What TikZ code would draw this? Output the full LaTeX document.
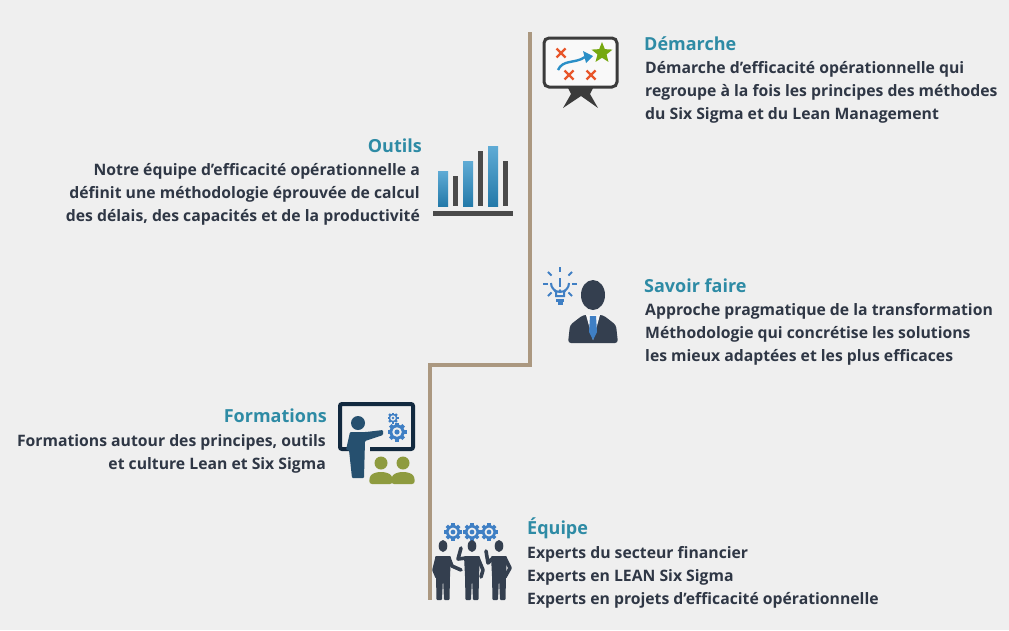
\documentclass[tikz,border=0pt]{standalone}
\usepackage{fontspec}
\setmainfont{Open Sans}
\usetikzlibrary{shapes.geometric,calc}
\definecolor{bgcol}{HTML}{EFEFEF}
\definecolor{railcol}{HTML}{AB9880}
\definecolor{titlecol}{HTML}{2E8BA5}
\definecolor{bodycol}{HTML}{2F3745}
\definecolor{slatecol}{HTML}{343F4F}
\definecolor{barblue}{HTML}{2A8FC7}
\definecolor{bargrey}{HTML}{4A4A4A}
\definecolor{gearblue}{HTML}{3F7FC4}
\definecolor{navycol}{HTML}{12293F}
\definecolor{teachcol}{HTML}{26506F}
\definecolor{olivecol}{HTML}{8E9B3F}
\definecolor{crosscol}{HTML}{E8562A}
\definecolor{starcol}{HTML}{76A80F}
% gear: x, y, radius, colour
\newcommand{\gearicon}[4]{
    \foreach \ang in {0,45,90,135}
        \fill[#4, rotate around={\ang:(#1,#2)}] (#1-0.2*#3,#2-#3) rectangle (#1+0.2*#3,#2+#3);
    \fill[#4] (#1,#2) circle[radius=0.8*#3];
    \fill[bgcol] (#1,#2) circle[radius=0.5*#3];
    \fill[#4] (#1,#2) circle[radius=0.27*#3];
}
% standing man: x of centre, y of head, y of feet
\newcommand{\standman}[3]{
    \fill[slatecol] (#1,#2) ellipse[x radius=4.3, y radius=6];
    \fill[slatecol, rounded corners=1pt] (#1-8,#2+10) -- (#1+8,#2+10) -- (#1+7,#2+30) -- (#1+6.5,#3) -- (#1+1,#3) -- (#1,#2+32) -- (#1-1,#3) -- (#1-6.5,#3) -- (#1-7,#2+30) -- cycle;
}
\begin{document}
\begin{tikzpicture}[
    x=1pt, y=-1pt,
    title/.style={font=\bfseries\fontsize{18}{22}\selectfont, text=titlecol, inner sep=0pt},
    bodyleft/.style={font=\bfseries\fontsize{15.75}{23}\selectfont, text=bodycol, align=left, anchor=north west, inner sep=0pt},
    bodyright/.style={font=\bfseries\fontsize{15.75}{23}\selectfont, text=bodycol, align=right, anchor=north east, inner sep=0pt},
    rail/.style={draw=railcol, line width=4pt},
    cross/.style={draw=crosscol, line width=2.4pt},
    limb/.style={draw=slatecol, line width=3.6pt, line cap=round, line join=round}
]
    \fill[bgcol] (0,0) rectangle (1009,630);
    \useasboundingbox (0,0) rectangle (1009,630);

    % Rail
    \coordinate (railtop) at (530,32);
    \coordinate (railupper) at (530,365);
    \coordinate (raillower) at (430,365);
    \coordinate (railend) at (430,600);
    \draw[rail, line join=miter] (railtop) -- (railupper) -- (raillower) -- (railend);

    % Texts
    \node[title, anchor=west] (demarche) at (644,44) {Démarche};
    \node[bodyleft] (demarchetxt) at (645,61) {Démarche d’efficacité opérationnelle qui\\regroupe à la fois les principes des méthodes\\du Six Sigma et du Lean Management};

    \node[title, anchor=east] (outils) at (422,146) {Outils};
    \node[bodyright] (outilstxt) at (420,163) {Notre équipe d’efficacité opérationnelle a\\définit une méthodologie éprouvée de calcul\\des délais, des capacités et de la productivité};

    \node[title, anchor=west] (savoir) at (644,286) {Savoir faire};
    \node[bodyleft] (savoirtxt) at (645,303) {Approche pragmatique de la transformation\\Méthodologie qui concrétise les solutions\\les mieux adaptées et les plus efficaces};

    \node[title, anchor=east] (formations) at (327,416) {Formations};
    \node[bodyright] (formationstxt) at (326,434) {Formations autour des principes, outils\\et culture Lean et Six Sigma};

    \node[title, anchor=west] (equipe) at (527,528) {Équipe};
    \node[bodyleft] (equipetxt) at (527,546) {Experts du secteur financier\\Experts en LEAN Six Sigma\\Experts en projets d’efficacité opérationnelle};

    % Icon demarche
    \draw[draw=bargrey!80!black, fill=white!60!bgcol, line width=3pt, rounded corners=5pt] (544,38) rectangle (617,87);
    \fill[bargrey!80!black] (568,88) -- (593,88) -- (590,94) -- (598,108) -- (581,96) -- (563,108) -- (571,94) -- cycle;
    \node[star, star points=5, star point ratio=2.3, fill=starcol, minimum size=22pt, inner sep=0pt] (goal) at (602,53) {};
    \foreach \cx/\cy in {561/53, 569/75, 591/75} {
        \draw[cross] (\cx-4.5,\cy-4.5) -- (\cx+4.5,\cy+4.5);
        \draw[cross] (\cx-4.5,\cy+4.5) -- (\cx+4.5,\cy-4.5);
    }
    \draw[draw=barblue, line width=2.4pt] (558,70) .. controls (563,59) and (575,64) .. (585,57);
    \fill[barblue] (593,56) -- (583,51) -- (586,63) -- cycle;

    % Icon outils
    \foreach \bx/\by in {438/171, 463/161, 488/146}
        \shade[top color=barblue!75!white, bottom color=barblue!85!black] (\bx,\by) rectangle (\bx+10,206);
    \foreach \bx/\by in {453/176, 478/151, 503/161}
        \fill[bargrey] (\bx,\by) rectangle (\bx+5,206);
    \fill[bargrey] (433,211) rectangle (513,216);

    % Icon savoir faire
    \draw[gearblue, line width=2pt] (556,296) -- (556,292) .. controls (554,289) and (551,288) .. (551,283) arc[start angle=180, end angle=0, radius=9] .. controls (569,288) and (566,289) .. (564,292) -- (564,296) -- cycle;
    \fill[gearblue] (556,299) rectangle (564,302);
    \fill[gearblue] (557.5,302) rectangle (562.5,305);
    \fill[gearblue] (559,278) rectangle (561,287);
    \fill[gearblue] (560,290.5) circle[radius=1.3];
    \foreach \ang in {0,45,135,180,225,270,315}
        \draw[gearblue, line width=1.8pt] ($(560,284)+(\ang:12)$) -- ($(560,284)+(\ang:17)$);
    \fill[slatecol] (593,295) ellipse[x radius=12, y radius=15];
    \fill[slatecol, rounded corners=3pt] (568,343) -- (570,325) -- (583,315) -- (603,315) -- (616,325) -- (618,343) -- cycle;
    \fill[white!50!bgcol] (586,315) -- (600,315) -- (593,340) -- cycle;
    \fill[gearblue] (590,316) -- (596,316) -- (597,332) -- (593,340) -- (589,332) -- cycle;

    % Icon formations
    \draw[navycol, line width=4pt, rounded corners=2pt] (351,449) -- (340,449) -- (340,404) -- (413,404) -- (413,449) -- (370,449);
    \fill[teachcol] (358,423) circle[radius=7];
    \fill[teachcol, rounded corners=1pt] (350,432) -- (366,432) -- (383,430) -- (383,435) -- (365,441) -- (364,478) -- (352,478) -- (349,450) -- (346,450) -- cycle;
    \gearicon{393}{418}{5.5}{gearblue}
    \gearicon{397}{432}{9.5}{gearblue}
    \foreach \gx in {381,403} {
        \fill[olivecol] (\gx,463) circle[radius=6.5];
        \fill[olivecol, rounded corners=3pt] (\gx-12,484) -- (\gx-11,475) -- (\gx-4,472) -- (\gx+4,472) -- (\gx+11,475) -- (\gx+12,484) -- cycle;
    }

    % Icon equipe
    \gearicon{453}{532}{8.8}{gearblue}
    \gearicon{472}{532}{8.8}{gearblue}
    \gearicon{489}{532}{8.8}{gearblue}
    \standman{443}{546}{600}
    \standman{472}{546}{600}
    \standman{499}{546}{600}
    \draw[limb] (437,558) -- (434,570) -- (437,577);
    \draw[limb] (449,558) -- (452,566) -- (461,570);
    \draw[limb] (466,558) -- (458,559) -- (461,548);
    \draw[limb] (478,558) -- (483,570) -- (481,577);
    \draw[limb] (493,558) -- (488,563) -- (486,551);
    \draw[limb] (505,558) -- (510,568) -- (505,577);

\end{tikzpicture}
\end{document}
